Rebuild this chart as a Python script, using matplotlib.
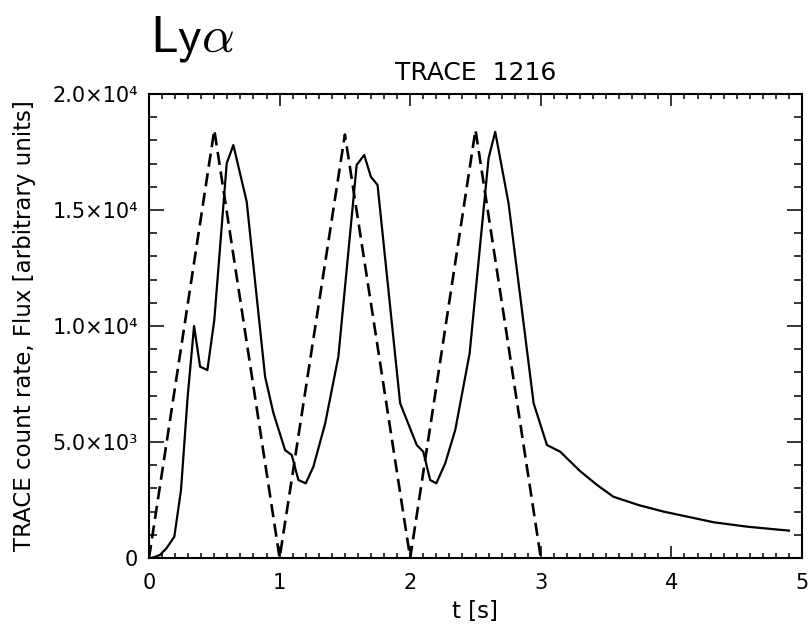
import matplotlib
matplotlib.use("Agg")
import matplotlib.pyplot as plt
from matplotlib.ticker import MultipleLocator, FixedLocator, FixedFormatter

# TRACE 1216 light curve (solid) and triangular driving flux (dashed)
t_trace = [0.0, 0.02, 0.084, 0.135, 0.194, 0.245, 0.296, 0.345, 0.391, 0.447,
           0.50, 0.595, 0.646, 0.748, 0.889, 0.953, 1.042, 1.093, 1.144, 1.20,
           1.259, 1.349, 1.45, 1.59, 1.648, 1.699, 1.75, 1.923, 2.05, 2.10,
           2.153, 2.20, 2.268, 2.345, 2.455, 2.60, 2.651, 2.753, 2.945, 3.047,
           3.149, 3.30, 3.43, 3.556, 3.75, 3.94, 4.324, 4.58, 4.90]
flux_trace = [0, 0, 130, 430, 920, 2930, 6950, 10000, 8250, 8100,
              10260, 17010, 17800, 15360, 7810, 6240, 4650, 4440, 3360, 3220,
              3940, 5800, 8680, 16940, 17370, 16430, 16080, 6670, 4870, 4580,
              3360, 3220, 4080, 5520, 8820, 17230, 18370, 15290, 6670, 4870,
              4580, 3750, 3150, 2640, 2280, 2000, 1540, 1350, 1180]

t_model = [0.0, 0.5, 1.0, 1.5, 2.0, 2.5, 3.0]
flux_model = [0, 18450, 0, 18250, 0, 18450, 0]

ytick_vals = [0, 5000, 10000, 15000, 20000]
ytick_labels = ["0", "5.0\u00d710\u00b3", "1.0\u00d710\u2074",
                "1.5\u00d710\u2074", "2.0\u00d710\u2074"]

plt.rcParams['font.family'] = ['DejaVu Sans']

fig = plt.figure(figsize=(8.09, 6.25), dpi=100)
ax = fig.add_axes([149 / 809, 67 / 625, 653 / 809, 464 / 625])

ax.plot(t_trace, flux_trace, color='black', lw=1.6)
ax.plot(t_model, flux_model, color='black', lw=1.9, dashes=(5.0, 2.5))

ax.set_xlim(0, 5)
ax.set_ylim(0, 20000)

ax.xaxis.set_major_locator(MultipleLocator(1))
ax.xaxis.set_minor_locator(MultipleLocator(0.1))
ax.yaxis.set_major_locator(FixedLocator(ytick_vals))
ax.yaxis.set_major_formatter(FixedFormatter(ytick_labels))
ax.yaxis.set_minor_locator(MultipleLocator(1000))

ax.tick_params(which='both', direction='in', top=True, right=True,
               width=1.1, labelsize=15, colors='black')
ax.tick_params(axis='x', which='major', length=8.6, pad=11)
ax.tick_params(axis='x', which='minor', length=3.8)
ax.tick_params(axis='y', which='major', length=10.8, pad=8)
ax.tick_params(axis='y', which='minor', length=5.5)

for sp in ax.spines.values():
    sp.set_linewidth(1.5)

ax.set_title("TRACE  1216", fontsize=18, pad=10)
ax.set_xlabel("t [s]", fontsize=16.5)
ax.set_ylabel("TRACE count rate, Flux [arbitrary units]", fontsize=16.5)
ax.xaxis.set_label_coords(0.5, -0.09)
ax.yaxis.set_label_coords(-0.173, 0.5)

fig.text(150 / 809, 1 - 52 / 625, r"$\mathsf{Ly}\alpha$", fontsize=37,
         math_fontfamily='cm', ha='left', va='baseline')

fig.savefig("out.png", dpi=100, facecolor='white')
